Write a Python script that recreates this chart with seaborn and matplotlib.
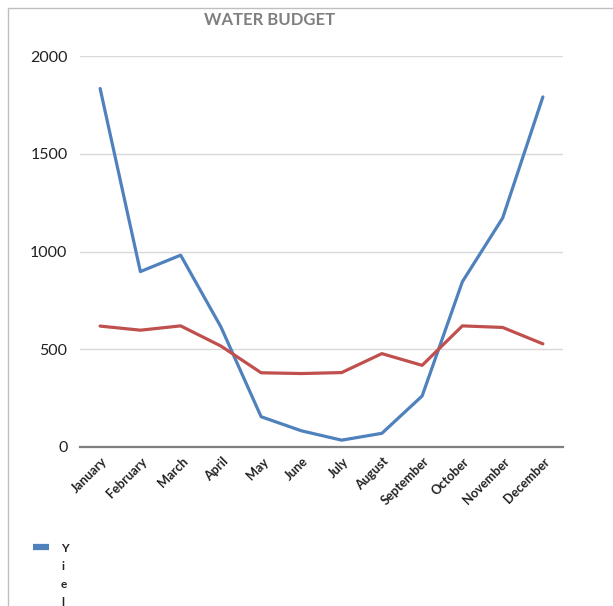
import matplotlib
matplotlib.use("Agg")
import matplotlib.pyplot as plt
import matplotlib.transforms as mtransforms
from matplotlib.lines import Line2D
from matplotlib.patches import Rectangle
import seaborn as sns
import pandas as pd

months = ["January", "February", "March", "April", "May", "June", "July",
          "August", "September", "October", "November", "December"]
yield_values = [1835, 898, 982, 615, 155, 83, 35, 70, 261, 846, 1172, 1792]
demand_values = [619, 598, 620, 517, 380, 376, 381, 478, 418, 620, 612, 528]
y_ticks = [0, 500, 1000, 1500, 2000]

BLUE = "#4F81BD"
RED = "#C0504D"

df = pd.DataFrame({
    "month": months * 2,
    "value": yield_values + demand_values,
    "series": ["Yield"] * len(months) + ["Demand"] * len(months),
})

sns.set_theme(style="white")
plt.rcParams["font.family"] = ["Lato", "DejaVu Sans"]

fig = plt.figure(figsize=(6.13, 6.06), dpi=100)
ax = fig.add_axes([80 / 613, 1 - 447 / 606, (563 - 80) / 613, (447 - 56.3) / 606])

sns.lineplot(data=df, x="month", y="value", hue="series",
             palette={"Yield": BLUE, "Demand": RED}, hue_order=["Yield", "Demand"],
             linewidth=2.3, sort=False, legend=False, ax=ax)

ax.set_xlim(-0.5, len(months) - 0.5)
ax.set_ylim(0, 2000)
ax.set_yticks(y_ticks)
ax.set_yticklabels([str(t) for t in y_ticks], fontsize=11.5, color="#222222")
ax.yaxis.grid(True, color="#d9d9d9", linewidth=1.0)
ax.set_axisbelow(True)
ax.set_xlabel("")
ax.set_ylabel("")

ax.set_xticks(range(len(months)))
ax.set_xticklabels(months, rotation=45, ha="right", va="center",
                   rotation_mode="anchor", fontsize=9.2, fontweight="bold",
                   color="#222222")
ax.tick_params(axis="x", length=0, pad=9)
ax.tick_params(axis="y", length=0, pad=9)
shift = mtransforms.ScaledTranslation(5 / 100, 0, fig.dpi_scale_trans)
for lbl in ax.get_xticklabels():
    lbl.set_transform(lbl.get_transform() + shift)

for side in ("left", "right", "top"):
    ax.spines[side].set_visible(False)
ax.spines["bottom"].set_color("#7f7f7f")
ax.spines["bottom"].set_linewidth(1.6)

fig.text(270 / 613, 1 - 20 / 606, "WATER BUDGET", ha="center", va="center",
         fontsize=12, fontweight="bold", color="#7f7f7f")

# Outer chart frame
fig.patches.append(Rectangle((8 / 613, -0.1), 1.2, 1 - 7.5 / 606 + 0.1,
                             transform=fig.transFigure, fill=False,
                             edgecolor="#bfbfbf", linewidth=1.0))

# Narrow legend with its label wrapped one letter per line
handle = Line2D([], [], color=BLUE, linewidth=4.5, solid_capstyle="butt")
leg = fig.legend([handle], ["Y\ni\ne\nl\nd"], loc="upper left",
                 bbox_to_anchor=(22 / 613, 1 - 532 / 606), frameon=False,
                 handlelength=1.4, handletextpad=1.0,
                 prop={"size": 8.5, "weight": "bold"})
for t in leg.get_texts():
    t.set_linespacing(1.8)
    t.set_color("#222222")
for item in leg._legend_handle_box.get_children():
    for row in item.get_children():
        row.align = "top"

fig.savefig("out.png", dpi=100, facecolor="white")
